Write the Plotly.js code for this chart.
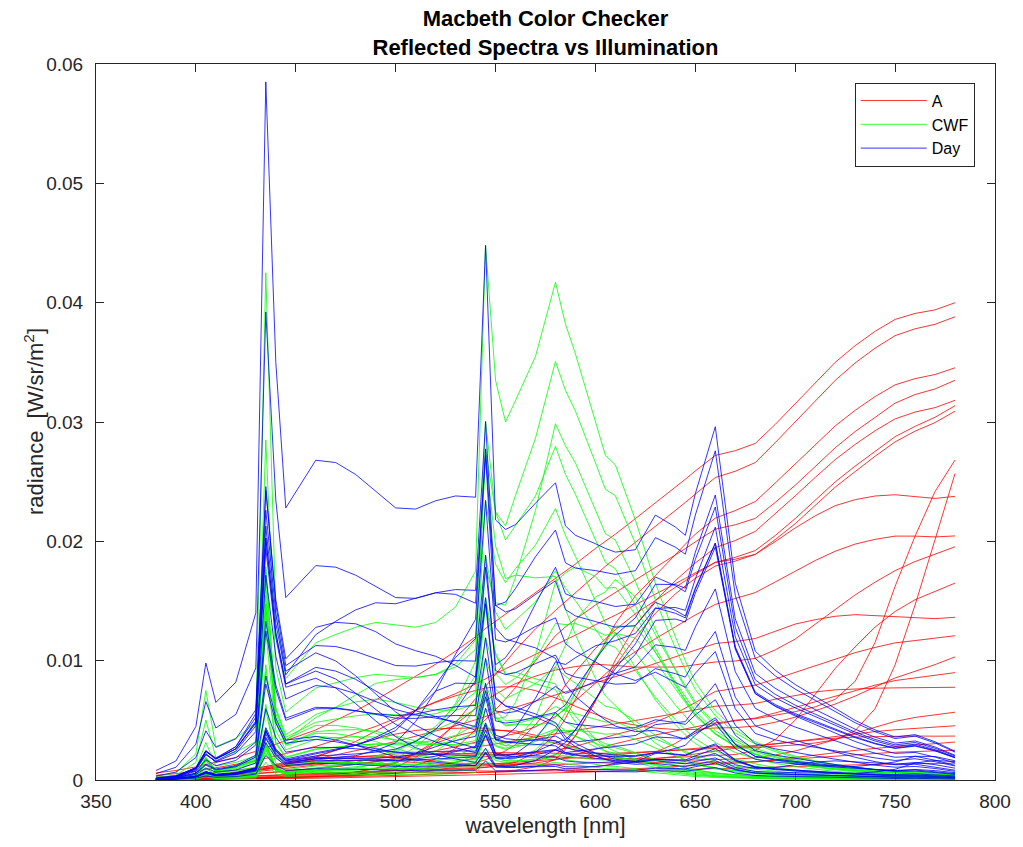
<!DOCTYPE html>
<html>
<head>
<meta charset="utf-8">
<script src="https://cdn.plot.ly/plotly-3.0.1.min.js"></script>
<style>
  html, body { margin: 0; padding: 0; background: #ffffff; }
  #chart { width: 1023px; height: 847px; }
</style>
</head>
<body>
<div id="chart"></div>
<script>
// Sample wavelengths (nm)
const wavelength = [
  380, 390, 400, 405, 410, 420, 430, 435, 440, 445, 460, 470,
  480, 490, 500, 510, 520, 530, 540, 545, 550, 555, 560, 570,
  580, 585, 590, 600, 605, 610, 620, 630, 640, 645, 650, 660,
  670, 680, 690, 700, 710, 720, 730, 740, 750, 760, 770, 780
];

// Radiance of a perfect diffuser under each light, W/sr/m^2 per sample
const illuminantA = [
  0.00068, 0.00091, 0.00125, 0.00148, 0.00170, 0.00216, 0.00273, 0.00307, 0.00341, 0.00375, 0.00477, 0.00568,
  0.00659, 0.00761, 0.00875, 0.00989, 0.01102, 0.01227, 0.01364, 0.01443, 0.01511, 0.01580, 0.01648, 0.01784,
  0.01920, 0.01989, 0.02057, 0.02205, 0.02273, 0.02341, 0.02489, 0.02636, 0.02784, 0.02864, 0.02943, 0.03091,
  0.03136, 0.03205, 0.03386, 0.03580, 0.03784, 0.03977, 0.04136, 0.04273, 0.04386, 0.04443, 0.04477, 0.04545
];
const illuminantCWF = [
  0.00034, 0.00068, 0.00250, 0.00852, 0.00318, 0.00398, 0.00545, 0.04830, 0.01591, 0.00966, 0.01307, 0.01386,
  0.01455, 0.01500, 0.01477, 0.01455, 0.01500, 0.01648, 0.01989, 0.05091, 0.03807, 0.03409, 0.03614, 0.04034,
  0.04739, 0.04341, 0.04057, 0.03409, 0.03091, 0.03000, 0.02477, 0.01875, 0.01364, 0.01136, 0.00932, 0.00659,
  0.00477, 0.00364, 0.00284, 0.00227, 0.00182, 0.00148, 0.00125, 0.00102, 0.00091, 0.00080, 0.00068, 0.00057
];
const illuminantDay = [
  0.00091, 0.00182, 0.00511, 0.01114, 0.00739, 0.00932, 0.01591, 0.06648, 0.03977, 0.02591, 0.03045, 0.03023,
  0.02909, 0.02750, 0.02591, 0.02580, 0.02659, 0.02705, 0.02693, 0.05091, 0.02477, 0.02386, 0.02432, 0.02636,
  0.02830, 0.02420, 0.02330, 0.02250, 0.02205, 0.02170, 0.02193, 0.02523, 0.02409, 0.02330, 0.02727, 0.03364,
  0.01875, 0.01227, 0.01045, 0.00909, 0.00795, 0.00682, 0.00568, 0.00477, 0.00409, 0.00432, 0.00364, 0.00273
];

// Spectral reflectance of the 24 checker patches at the same wavelengths
const darkSkin = [
  .055, .058, .061, .062, .062, .062, .062, .062, .062, .062, .062, .062,
  .062, .063, .064, .065, .066, .069, .072, .073, .074, .075, .076, .080,
  .088, .095, .103, .117, .124, .130, .138, .143, .147, .149, .151, .155,
  .158, .162, .166, .170, .174, .178, .182, .186, .190, .193, .196, .198
];
const lightSkin = [
  .118, .128, .143, .152, .162, .176, .185, .188, .191, .193, .196, .198,
  .199, .202, .208, .214, .221, .227, .232, .234, .234, .235, .236, .250,
  .277, .300, .323, .368, .392, .412, .432, .449, .461, .466, .470, .476,
  .484, .490, .490, .488, .486, .482, .478, .472, .466, .460, .455, .450
];
const blueSky = [
  .130, .152, .178, .192, .208, .240, .255, .258, .261, .262, .260, .256,
  .249, .240, .228, .212, .196, .181, .166, .159, .152, .145, .139, .128,
  .117, .112, .108, .101, .098, .096, .093, .091, .089, .088, .088, .087,
  .088, .088, .089, .090, .091, .092, .094, .095, .096, .097, .098, .100
];
const foliage = [
  .051, .052, .054, .055, .055, .056, .057, .058, .058, .058, .059, .061,
  .063, .067, .073, .085, .105, .122, .136, .137, .136, .133, .128, .115,
  .101, .095, .090, .081, .078, .075, .071, .069, .068, .067, .067, .066,
  .068, .078, .100, .140, .190, .235, .270, .300, .322, .340, .353, .363
];
const blueFlower = [
  .144, .170, .200, .218, .236, .280, .300, .305, .310, .311, .310, .302,
  .290, .272, .250, .225, .200, .176, .155, .147, .140, .135, .130, .128,
  .130, .133, .137, .150, .157, .163, .170, .184, .200, .210, .220, .240,
  .245, .248, .250, .252, .254, .256, .258, .260, .262, .263, .265, .266
];
const bluishGreen = [
  .136, .165, .200, .220, .240, .280, .310, .320, .330, .340, .400, .440,
  .490, .540, .570, .590, .590, .575, .550, .535, .515, .495, .475, .420,
  .360, .330, .300, .250, .228, .208, .185, .165, .152, .147, .144, .141,
  .140, .141, .143, .147, .153, .160, .170, .182, .195, .205, .216, .227
];
const orange = [
  .054, .053, .052, .052, .052, .052, .052, .052, .052, .052, .053, .055,
  .057, .060, .063, .068, .075, .088, .105, .118, .135, .155, .180, .260,
  .350, .400, .440, .500, .520, .538, .560, .572, .580, .583, .586, .590,
  .595, .600, .605, .612, .620, .628, .636, .645, .656, .667, .679, .690
];
const purplishBlue = [
  .122, .150, .190, .215, .240, .300, .330, .340, .350, .352, .350, .330,
  .300, .262, .220, .178, .140, .116, .100, .094, .089, .084, .080, .073,
  .068, .066, .065, .065, .065, .065, .066, .068, .070, .072, .074, .078,
  .085, .085, .083, .082, .082, .085, .100, .140, .220, .330, .450, .565
];
const moderateRed = [
  .096, .103, .110, .113, .116, .120, .121, .121, .120, .119, .112, .106,
  .100, .095, .090, .085, .080, .077, .075, .075, .076, .078, .080, .090,
  .110, .140, .180, .300, .360, .410, .480, .530, .560, .568, .574, .580,
  .585, .590, .595, .600, .608, .617, .625, .635, .646, .658, .669, .680
];
const purple = [
  .092, .103, .115, .120, .125, .130, .131, .131, .130, .129, .120, .111,
  .100, .088, .075, .064, .055, .049, .045, .044, .043, .043, .043, .044,
  .045, .046, .047, .050, .054, .060, .070, .088, .110, .125, .138, .150,
  .160, .160, .160, .160, .162, .170, .200, .270, .370, .460, .540, .590
];
const yellowGreen = [
  .061, .061, .062, .062, .063, .064, .065, .066, .066, .068, .075, .085,
  .100, .125, .160, .225, .300, .380, .440, .460, .475, .485, .490, .488,
  .480, .472, .462, .440, .425, .410, .380, .358, .340, .333, .328, .320,
  .318, .318, .322, .330, .345, .360, .375, .388, .400, .412, .422, .430
];
const orangeYellow = [
  .063, .062, .062, .062, .062, .062, .062, .063, .063, .064, .066, .069,
  .075, .085, .100, .125, .160, .215, .310, .350, .390, .430, .470, .560,
  .630, .645, .655, .665, .668, .670, .672, .674, .676, .677, .678, .680,
  .682, .684, .687, .690, .694, .700, .706, .712, .720, .727, .732, .737
];
const blue = [
  .066, .110, .160, .190, .215, .260, .285, .292, .300, .300, .280, .255,
  .220, .180, .140, .105, .080, .065, .055, .052, .049, .047, .045, .042,
  .040, .039, .039, .038, .038, .038, .038, .039, .040, .040, .041, .042,
  .045, .047, .050, .053, .056, .058, .060, .062, .064, .066, .068, .070
];
const green = [
  .052, .053, .055, .056, .057, .058, .060, .061, .062, .064, .072, .083,
  .100, .130, .170, .225, .280, .300, .300, .290, .275, .260, .250, .210,
  .170, .150, .132, .100, .090, .080, .070, .064, .060, .058, .057, .055,
  .056, .058, .062, .068, .076, .085, .095, .104, .112, .118, .122, .125
];
const red = [
  .050, .050, .049, .049, .048, .048, .047, .047, .047, .047, .046, .045,
  .045, .044, .044, .044, .044, .044, .045, .046, .047, .048, .050, .062,
  .090, .130, .180, .300, .370, .430, .520, .570, .600, .610, .618, .630,
  .640, .650, .658, .665, .670, .675, .680, .685, .690, .694, .697, .700
];
const yellow = [
  .058, .056, .054, .054, .053, .053, .053, .054, .054, .055, .058, .062,
  .070, .090, .120, .190, .280, .390, .500, .545, .590, .625, .660, .710,
  .740, .752, .762, .780, .788, .794, .800, .805, .810, .812, .814, .820,
  .825, .830, .835, .838, .840, .842, .845, .847, .849, .851, .853, .854
];
const magenta = [
  .145, .170, .200, .220, .240, .280, .300, .305, .310, .310, .300, .280,
  .250, .215, .180, .148, .120, .100, .085, .082, .082, .084, .090, .130,
  .200, .260, .330, .450, .510, .560, .620, .650, .680, .690, .700, .710,
  .720, .728, .735, .740, .743, .746, .749, .752, .755, .757, .759, .760
];
const cyan = [
  .108, .140, .180, .215, .250, .300, .350, .365, .380, .392, .420, .437,
  .450, .452, .440, .420, .390, .355, .320, .300, .280, .260, .240, .200,
  .160, .140, .120, .090, .078, .068, .060, .055, .050, .049, .048, .048,
  .048, .048, .049, .050, .050, .051, .052, .052, .053, .054, .054, .055
];
const white = [
  .870, .875, .878, .880, .880, .880, .880, .880, .880, .880, .880, .880,
  .880, .880, .880, .880, .880, .880, .880, .880, .880, .880, .880, .880,
  .880, .880, .880, .880, .880, .880, .880, .880, .880, .880, .880, .880,
  .880, .880, .880, .880, .880, .880, .880, .880, .880, .880, .880, .880
];
const neutral8 = [
  .580, .585, .588, .590, .590, .590, .590, .590, .590, .590, .590, .590,
  .590, .590, .590, .590, .590, .590, .590, .590, .590, .590, .590, .590,
  .590, .590, .590, .590, .590, .590, .590, .590, .590, .590, .590, .590,
  .590, .590, .590, .590, .585, .578, .568, .557, .545, .535, .527, .523
];
const neutral65 = [
  .360, .365, .368, .370, .370, .370, .370, .370, .370, .370, .370, .370,
  .370, .370, .370, .370, .370, .370, .370, .370, .370, .370, .370, .370,
  .370, .370, .370, .370, .370, .370, .370, .370, .370, .370, .370, .370,
  .370, .370, .368, .365, .355, .345, .335, .322, .312, .306, .302, .300
];
const neutral5 = [
  .195, .198, .200, .200, .200, .200, .200, .200, .200, .200, .200, .200,
  .200, .200, .200, .200, .200, .200, .200, .200, .200, .200, .200, .200,
  .200, .200, .200, .200, .200, .200, .200, .200, .200, .200, .200, .200,
  .200, .200, .200, .198, .195, .190, .185, .180, .176, .174, .172, .171
];
const neutral35 = [
  .088, .089, .090, .090, .090, .090, .090, .090, .090, .090, .090, .090,
  .090, .090, .090, .090, .090, .090, .090, .090, .090, .090, .090, .090,
  .090, .090, .090, .090, .090, .090, .090, .090, .090, .090, .090, .090,
  .090, .090, .090, .090, .089, .088, .087, .085, .084, .083, .082, .081
];
const black = [
  .031, .031, .031, .031, .031, .031, .031, .031, .031, .031, .031, .031,
  .031, .031, .031, .031, .031, .031, .031, .031, .031, .031, .031, .031,
  .031, .031, .031, .031, .031, .031, .031, .031, .031, .031, .031, .031,
  .031, .031, .031, .031, .031, .031, .031, .031, .031, .031, .031, .031
];

const patchNames = [
  'dark skin', 'light skin', 'blue sky', 'foliage', 'blue flower', 'bluish green',
  'orange', 'purplish blue', 'moderate red', 'purple', 'yellow green', 'orange yellow',
  'blue', 'green', 'red', 'yellow', 'magenta', 'cyan',
  'white', 'neutral 8', 'neutral 6.5', 'neutral 5', 'neutral 3.5', 'black'
];
const patches = [
  darkSkin, lightSkin, blueSky, foliage, blueFlower, bluishGreen,
  orange, purplishBlue, moderateRed, purple, yellowGreen, orangeYellow,
  blue, green, red, yellow, magenta, cyan,
  white, neutral8, neutral65, neutral5, neutral35, black
];

const illuminantNames = ['A', 'CWF', 'Day'];
const illuminants = [illuminantA, illuminantCWF, illuminantDay];
const lineColors = ['#ff0000', '#00ff00', '#0000ff'];

// Reflected radiance = reflectance x illuminant radiance, one line per patch per light
const traces = [];
illuminants.forEach((illum, k) => {
  patches.forEach((refl, p) => {
    traces.push({
      type: 'scatter',
      mode: 'lines',
      x: wavelength,
      y: refl.map((r, i) => r * illum[i]),
      name: illuminantNames[k],
      legendgroup: illuminantNames[k],
      showlegend: p === 0,
      line: { color: lineColors[k], width: 0.8 },
      hovertemplate: patchNames[p] + '<br>%{x} nm: %{y:.4f}<extra>' + illuminantNames[k] + '</extra>'
    });
  });
});

const FONT = 'Liberation Sans, Arial, Helvetica, sans-serif';

const axisStyle = {
  showline: true,
  linecolor: '#262626',
  linewidth: 1,
  mirror: 'ticks',
  ticks: 'inside',
  ticklen: 8,
  tickwidth: 1,
  tickcolor: '#262626',
  showgrid: false,
  zeroline: false,
  automargin: false,
  tickfont: { family: FONT, size: 19, color: '#262626' }
};

const layout = {
  width: 1023,
  height: 847,
  margin: { l: 96, r: 28, t: 64, b: 67 },
  paper_bgcolor: '#ffffff',
  plot_bgcolor: '#ffffff',
  font: { family: FONT, size: 17, color: '#262626' },
  title: {
    text: '<b>Macbeth Color Checker</b><br><b>Reflected Spectra vs Illumination</b>',
    x: 0.5, xref: 'paper', xanchor: 'center',
    y: 1 - 26 / 847, yref: 'container', yanchor: 'middle',
    font: { family: FONT, size: 22, color: '#000000' }
  },
  xaxis: Object.assign({}, axisStyle, {
    range: [350, 800],
    tick0: 350,
    dtick: 50,
    ticklabelstandoff: 4,
    title: { text: 'wavelength [nm]', standoff: 6,
             font: { family: FONT, size: 22, color: '#262626' } }
  }),
  yaxis: Object.assign({}, axisStyle, {
    range: [0, 0.06],
    tick0: 0,
    dtick: 0.01,
    ticklabelstandoff: 8
  }),
  annotations: [{
    // y-axis label, placed close beside the tick labels
    text: 'radiance  [W/sr/m<sup>2</sup>]',
    xref: 'paper', yref: 'paper',
    x: (34 - 96) / 899, y: 0.5,
    xanchor: 'center', yanchor: 'middle',
    textangle: -90,
    showarrow: false,
    font: { family: FONT, size: 22, color: '#262626' }
  }],
  legend: {
    x: 0.844, xanchor: 'left',
    y: 0.974, yanchor: 'top',
    bgcolor: '#ffffff',
    bordercolor: '#262626',
    borderwidth: 1,
    itemwidth: 66,
    font: { family: FONT, size: 16, color: '#000000' },
    tracegroupgap: 0
  },
  showlegend: true
};

Plotly.newPlot('chart', traces, layout, { displayModeBar: false, staticPlot: true });
</script>
</body>
</html>
